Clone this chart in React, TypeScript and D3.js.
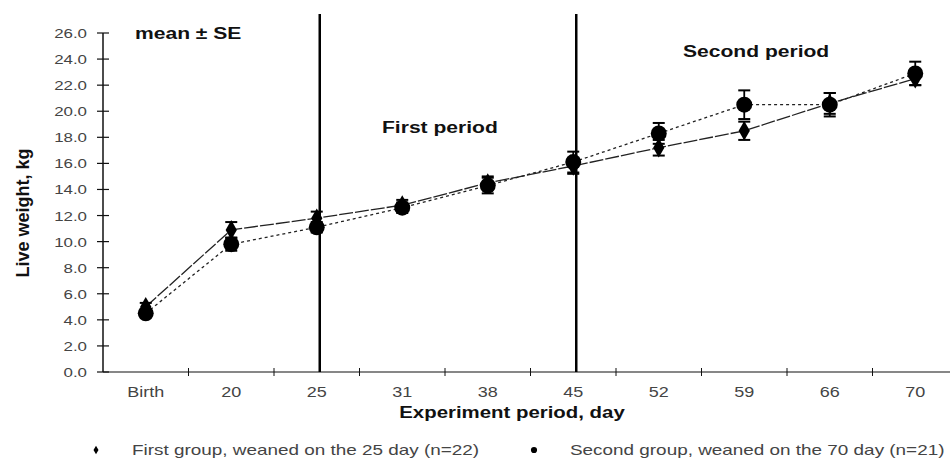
import { useEffect, useRef } from "react";
import * as d3 from "d3";

const width = 950;
const height = 461;

// days on the x axis
const days = ["Birth", "20", "25", "31", "38", "45", "52", "59", "66", "70"];
// first group, weaned on day 25
const group1Mean = [5.0, 10.9, 11.8, 12.8, 14.5, 15.8, 17.2, 18.5, 20.6, 22.5];
const group1SE = [0.3, 0.6, 0.5, 0.4, 0.5, 0.6, 0.6, 0.7, 0.8, 0.5];
// second group, weaned on day 70
const group2Mean = [4.5, 9.8, 11.1, 12.6, 14.3, 16.1, 18.3, 20.5, 20.5, 22.9];
const group2SE = [0.3, 0.5, 0.4, 0.4, 0.6, 0.8, 0.8, 1.1, 0.9, 0.9];
const yTicks = d3.range(0, 26.01, 2);
const periodDays = ["25", "45"];
const legendLabels = [
  "First group, weaned on the 25 day (n=22)",
  "Second group, weaned on the 70 day (n=21)",
];

const left = 103;
const right = 958;
const top = 33;
const bottom = 372;
const font = "'Liberation Sans', Arial, sans-serif";

const Chart = () => {
  const ref = useRef<SVGSVGElement>(null);

  useEffect(() => {
    const svg = d3.select(ref.current);
    svg.selectAll("*").remove();

    const x = d3.scaleBand().domain(days).range([left, right]);
    const y = d3.scaleLinear().domain([0, 26]).range([bottom, top]);
    const cx = (d: string) => (x(d) ?? 0) + x.bandwidth() / 2;

    // the scanned figure has wide lettering, so text is stretched a bit
    const label = (
      g: d3.Selection<any, any, any, any>,
      t: string, xx: number, yy: number,
      size: number, sx: number, anchor = "start", bold = false, fill = "#444"
    ) =>
      g.append("text")
        .attr("transform", `translate(${xx},${yy}) scale(${sx},1)`)
        .attr("text-anchor", anchor)
        .attr("font-family", font).attr("font-size", size)
        .attr("font-weight", bold ? "bold" : "normal")
        .attr("fill", fill)
        .text(t);

    // y axis
    svg.append("line")
      .attr("x1", left).attr("x2", left)
      .attr("y1", top).attr("y2", bottom)
      .attr("stroke", "#111").attr("stroke-width", 1.5);
    yTicks.forEach((v) => {
      svg.append("line")
        .attr("x1", left - 6).attr("x2", left + 6)
        .attr("y1", y(v)).attr("y2", y(v))
        .attr("stroke", "#111").attr("stroke-width", 1.2);
      label(svg, d3.format(".1f")(v), left - 16, y(v) + 5, 13.5, 1.25, "end");
    });

    // x axis
    svg.append("line")
      .attr("x1", left).attr("x2", width)
      .attr("y1", bottom).attr("y2", bottom)
      .attr("stroke", "#111").attr("stroke-width", 1.2);
    svg.append("g").selectAll("line").data(days.slice(1)).join("line")
      .attr("x1", (d) => x(d) ?? 0).attr("x2", (d) => x(d) ?? 0)
      .attr("y1", bottom - 4).attr("y2", bottom + 4)
      .attr("stroke", "#111").attr("stroke-width", 1);
    days.forEach((d) => label(svg, d, cx(d), bottom + 25, 15, 1.2, "middle"));

    // period separators
    svg.append("g").selectAll("line").data(periodDays).join("line")
      .attr("x1", (d) => cx(d) + 3).attr("x2", (d) => cx(d) + 3)
      .attr("y1", 14).attr("y2", bottom)
      .attr("stroke", "#000").attr("stroke-width", 2.5);

    const series = [
      { mean: group1Mean, se: group1SE, dash: "14,2", shape: "diamond" },
      { mean: group2Mean, se: group2SE, dash: "3,3", shape: "circle" },
    ];

    series.forEach((s) => {
      const pts = days.map((d, i) => ({ d, m: s.mean[i], e: s.se[i] }));
      const line = d3.line<{ d: string; m: number }>()
        .x((p) => cx(p.d)).y((p) => y(p.m));
      svg.append("path")
        .attr("d", line(pts))
        .attr("fill", "none")
        .attr("stroke", "#222").attr("stroke-width", 1.3)
        .attr("stroke-dasharray", s.dash);

      const eb = svg.append("g").selectAll("g").data(pts).join("g");
      eb.append("line")
        .attr("x1", (p) => cx(p.d)).attr("x2", (p) => cx(p.d))
        .attr("y1", (p) => y(p.m - p.e)).attr("y2", (p) => y(p.m + p.e))
        .attr("stroke", "#000").attr("stroke-width", 1.8);
      [-1, 1].forEach((k) => {
        eb.append("line")
          .attr("x1", (p) => cx(p.d) - 6).attr("x2", (p) => cx(p.d) + 6)
          .attr("y1", (p) => y(p.m + k * p.e)).attr("y2", (p) => y(p.m + k * p.e))
          .attr("stroke", "#000").attr("stroke-width", 2);
      });

      const sym = d3.symbol()
        .type(s.shape === "circle" ? d3.symbolCircle : d3.symbolDiamond)
        .size(s.shape === "circle" ? 200 : 110);
      svg.append("g").selectAll("path").data(pts).join("path")
        .attr("transform", (p) => `translate(${cx(p.d)},${y(p.m)})`)
        .attr("d", sym())
        .attr("fill", "#000");
    });

    // annotations
    label(svg, "mean ± SE", 135, 39, 17, 1.24, "start", true, "#111");
    label(svg, "First period", 382, 133, 17, 1.24, "start", true, "#111");
    label(svg, "Second period", 683, 57, 17, 1.24, "start", true, "#111");

    svg.append("text")
      .attr("transform", `translate(29,213) rotate(-90)`)
      .attr("text-anchor", "middle")
      .attr("font-family", font).attr("font-size", 18)
      .attr("font-weight", "bold").attr("fill", "#111")
      .text("Live weight, kg");
    label(svg, "Experiment period, day", 512, 418, 17, 1.2, "middle", true, "#111");

    // legend
    const legendX = [96, 534];
    legendLabels.forEach((t, i) => {
      const sym = d3.symbol()
        .type(i === 1 ? d3.symbolCircle : d3.symbolDiamond)
        .size(i === 1 ? 30 : 22);
      svg.append("path")
        .attr("transform", `translate(${legendX[i]},450)`)
        .attr("d", sym())
        .attr("fill", "#000");
      label(svg, t, legendX[i] + 36, 455, 14, 1.35);
    });
  }, []);

  return <svg ref={ref} width={width} height={height} style={{ display: "block" }} />;
};

export default function App() {
  return (
    <div style={{ position: "absolute", left: 0, top: 0, background: "#fff" }}>
      <Chart />
    </div>
  );
}
